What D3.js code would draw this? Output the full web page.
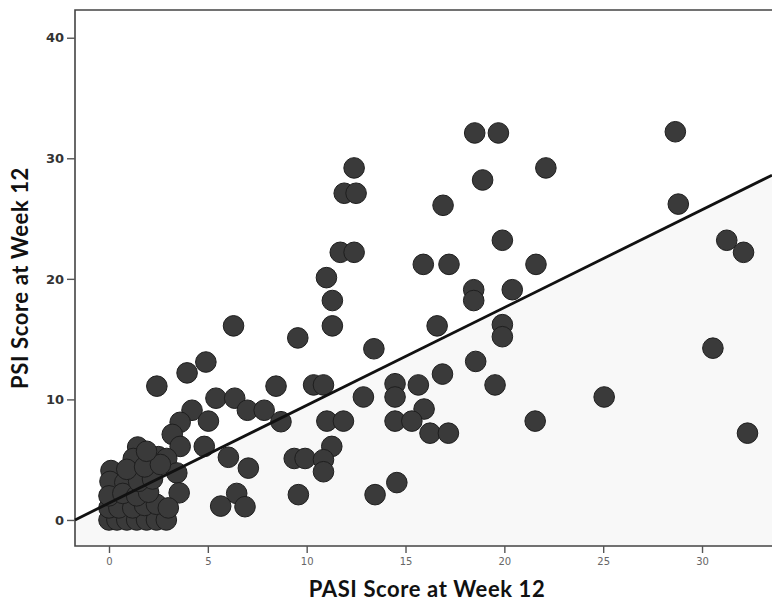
<!DOCTYPE html>
<html>
<head>
<meta charset="utf-8">
<script src="https://cdn.jsdelivr.net/npm/d3@7/dist/d3.min.js"></script>
<style>
  html, body { margin: 0; padding: 0; background: #ffffff; }
  svg { display: block; }
</style>
</head>
<body>
<svg id="chart" width="772" height="603"></svg>
<script>
// ---- data ----
const pasi = [
  18.5, 19.7, 28.65, 12.4, 18.9, 22.1, 11.9, 12.5, 16.9, 28.8,
  19.9, 31.25, 32.1, 11.7, 12.4, 15.9, 17.2, 21.6, 11.0, 18.45,
  18.45, 20.4, 11.3, 11.3, 6.3, 16.6, 19.9, 19.9, 9.55, 13.4,
  30.55, 4.9, 18.55, 3.95, 16.87, 2.42, 8.45, 10.35, 10.85, 14.47,
  15.65, 19.53, 5.41, 6.36, 12.87, 14.47, 25.05, 4.2, 7.0, 7.85,
  15.94, 3.6, 5.03, 8.7, 11.02, 11.86, 14.47, 15.32, 21.56, 3.2,
  16.24, 17.17, 32.3, 1.45, 4.82, 11.27, 3.6, 2.5, 6.04, 9.37,
  9.92, 10.85, 1.23, 2.92, 7.05, 10.85, 3.43, 0.1, 0.05, 0.8,
  14.56, 3.55, 6.46, 9.58, 13.46, 5.65, 6.88,
  0.0, 0.4, 0.9, 1.4, 1.9, 2.4, 2.9, 0.0, 0.5, 1.2,
  1.8, 2.4, 3.0, 0.0, 0.7, 1.4, 2.0, 1.5, 2.2, 0.9,
  1.8, 2.6, 1.9
];
const psi = [
  32.1, 32.1, 32.2, 29.2, 28.2, 29.2, 27.1, 27.1, 26.1, 26.2,
  23.2, 23.2, 22.2, 22.2, 22.2, 21.2, 21.2, 21.2, 20.1, 19.1,
  18.2, 19.1, 18.2, 16.1, 16.1, 16.1, 16.2, 15.2, 15.1, 14.2,
  14.25, 13.1, 13.15, 12.2, 12.1, 11.1, 11.1, 11.2, 11.2, 11.3,
  11.2, 11.2, 10.1, 10.1, 10.2, 10.2, 10.2, 9.1, 9.1, 9.1,
  9.2, 8.1, 8.2, 8.15, 8.2, 8.2, 8.2, 8.2, 8.2, 7.1,
  7.2, 7.2, 7.2, 6.05, 6.1, 6.1, 6.1, 5.25, 5.2, 5.1,
  5.1, 5.0, 5.1, 5.1, 4.3, 4.0, 3.9, 4.1, 3.2, 3.1,
  3.1, 2.25, 2.2, 2.1, 2.1, 1.15, 1.1,
  0.0, 0.0, 0.0, 0.0, 0.0, 0.0, 0.0, 1.0, 1.0, 1.0,
  1.2, 1.3, 1.0, 2.0, 2.2, 2.0, 2.3, 3.2, 3.4, 4.2,
  4.4, 4.6, 5.7
];
const xTicks = [0, 5, 10, 15, 20, 25, 30];
const yTicks = [0, 10, 20, 30, 40];
const xDomain = [-1.72, 33.54];
const yDomain = [-2.16, 42.3];
const fitIntercept = 1.40;
const fitSlope = 0.811;
const xTitle = "PASI Score at Week 12";
const yTitle = "PSI Score at Week 12";

// ---- layout ----
const mLeft = 75, mRight = 772, mTop = 10, mBottom = 546;
const svg = d3.select("#chart");

const x = d3.scaleLinear().domain(xDomain).range([mLeft, mRight]);
const y = d3.scaleLinear().domain(yDomain).range([mBottom, mTop]);

const fitY = v => fitIntercept + fitSlope * v;

// faint shading below the fit line
const shade = [[xDomain[0], fitY(xDomain[0])], [xDomain[1], fitY(xDomain[1])], [xDomain[1], yDomain[0]], [xDomain[0], yDomain[0]]];
svg.append("path")
  .attr("d", d3.line().x(d => x(d[0])).y(d => y(d[1]))(shade) + "Z")
  .attr("fill", "#f8f8f8");

// frame (top, left, bottom)
svg.append("path")
  .attr("d", `M${mRight},${mTop}H${mLeft}V${mBottom}H${mRight}`)
  .attr("fill", "none")
  .attr("stroke", "#444")
  .attr("stroke-width", 1.6);

// axes
const xAxis = d3.axisBottom(x).tickValues(xTicks).tickSize(7).tickPadding(5);
const gx = svg.append("g").attr("transform", `translate(0,${mBottom})`).call(xAxis);
gx.select(".domain").remove();
gx.selectAll(".tick line").attr("stroke", "#555").attr("stroke-width", 1.4);
gx.selectAll(".tick text")
  .attr("fill", "#666")
  .style("font-family", "'DejaVu Sans', sans-serif")
  .style("font-size", "10px");

const yAxis = d3.axisLeft(y).tickValues(yTicks).tickSize(8).tickPadding(3);
const gy = svg.append("g").attr("transform", `translate(${mLeft},0)`).call(yAxis);
gy.select(".domain").remove();
gy.selectAll(".tick line").attr("stroke", "#555").attr("stroke-width", 1.4);
gy.selectAll(".tick text")
  .attr("fill", "#333")
  .style("font-family", "'DejaVu Sans', sans-serif")
  .style("font-weight", "bold")
  .style("font-size", "13px");

// points
const pts = pasi.map((v, i) => ({ x: v, y: psi[i] }));
svg.append("g").selectAll("circle")
  .data(pts)
  .join("circle")
  .attr("cx", d => x(d.x))
  .attr("cy", d => y(d.y))
  .attr("r", 10.3)
  .attr("fill", "#3a3a3a")
  .attr("stroke", "#1e1e1e")
  .attr("stroke-width", 1);

// fit line (on top)
svg.append("line")
  .attr("x1", x(xDomain[0])).attr("y1", y(fitY(xDomain[0])))
  .attr("x2", x(xDomain[1])).attr("y2", y(fitY(xDomain[1])))
  .attr("stroke", "#111")
  .attr("stroke-width", 2.8);

// titles
svg.append("text")
  .attr("x", 427).attr("y", 597)
  .attr("text-anchor", "middle")
  .style("font-family", "Lato, 'Open Sans', sans-serif")
  .style("font-weight", "bold")
  .style("font-size", "22px")
  .style("letter-spacing", "0.6px")
  .attr("fill", "#111")
  .text(xTitle);

svg.append("text")
  .attr("transform", "translate(28,278) rotate(-90)")
  .attr("text-anchor", "middle")
  .style("font-family", "Lato, 'Open Sans', sans-serif")
  .style("font-weight", "bold")
  .style("font-size", "22px")
  .style("letter-spacing", "0.6px")
  .attr("fill", "#111")
  .text(yTitle);
</script>
</body>
</html>
